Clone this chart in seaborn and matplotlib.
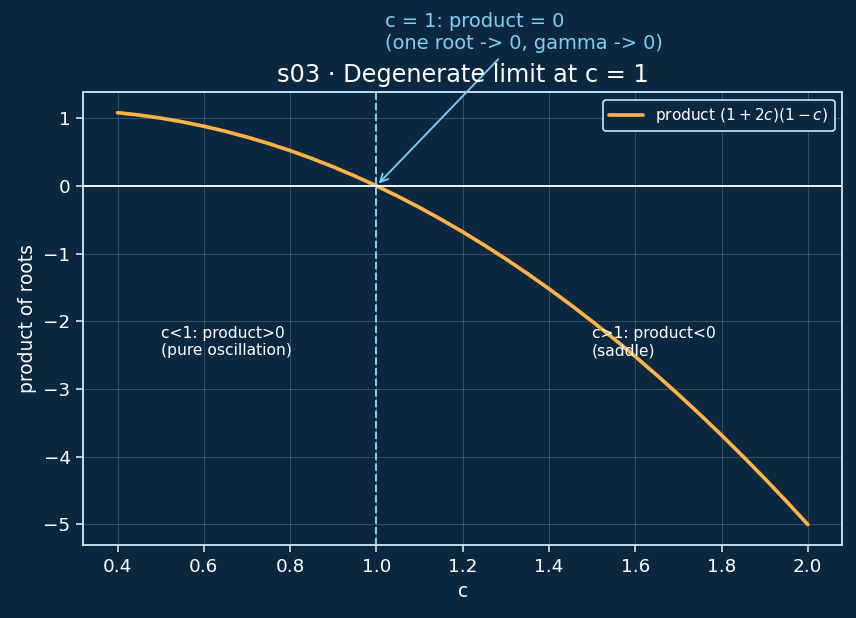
import pandas as pd
import seaborn as sns
import matplotlib.pyplot as plt

# data
c_values = [0.4, 0.45, 0.5, 0.55, 0.6, 0.65, 0.7, 0.75, 0.8, 0.85, 0.9, 0.95,
            1.0, 1.05, 1.1, 1.15, 1.2, 1.25, 1.3, 1.35, 1.4, 1.45, 1.5, 1.55,
            1.6, 1.65, 1.7, 1.75, 1.8, 1.85, 1.9, 1.95, 2.0]
product_values = [1.08, 1.045, 1.0, 0.945, 0.88, 0.805, 0.72, 0.625, 0.52, 0.405,
                  0.28, 0.145, 0.0, -0.155, -0.32, -0.495, -0.68, -0.875, -1.08,
                  -1.295, -1.52, -1.755, -2.0, -2.255, -2.52, -2.795, -3.08,
                  -3.375, -3.68, -3.995, -4.32, -4.655, -5.0]

BG = "#0c2840"
FG = "#ffffff"
EDGE = "#cfe6f2"
ORANGE = "#ffb347"
BLUE = "#7fd0f2"

def main():
    sns.set_style("dark")
    plt.rcParams.update({
        "figure.facecolor": BG,
        "axes.facecolor": BG,
        "axes.edgecolor": EDGE,
        "axes.labelcolor": FG,
        "text.color": FG,
        "xtick.color": FG,
        "ytick.color": FG,
        "font.family": ["DejaVu Sans"],
    })

    df = pd.DataFrame({"c": c_values, "product": product_values})

    fig, ax = plt.subplots(figsize=(856 / 120, 618 / 120), dpi=120)
    sns.lineplot(data=df, x="c", y="product", ax=ax, color=ORANGE, linewidth=2.2,
                 label=r"product $(1+2c)(1-c)$")

    ax.axhline(0, color=FG, linewidth=1.1)
    ax.axvline(1.0, color=BLUE, linestyle="--", linewidth=1.2)

    ax.grid(True, color="white", alpha=0.18, linewidth=0.6)
    ax.tick_params(axis="both", which="both", bottom=True, left=True,
                   length=4, width=1, color=EDGE, labelsize=11)
    for spine in ax.spines.values():
        spine.set_color(EDGE)
        spine.set_linewidth(1.1)

    ax.annotate("c = 1: product = 0\n(one root -> 0, gamma -> 0)",
                xy=(1.0, 0.0), xytext=(1.02, 2.02), color=BLUE, fontsize=11.6,
                arrowprops=dict(arrowstyle="->", color=BLUE, lw=1.1))
    ax.text(0.5, -2.5, "c<1: product>0\n(pure oscillation)", fontsize=9.3, color=FG)
    ax.text(1.5, -2.5, "c>1: product<0\n(saddle)", fontsize=9.3, color=FG)

    ax.set_title("s03 · Degenerate limit at c = 1", color=FG, fontsize=14.4)
    ax.set_xlabel("c", fontsize=11.2)
    ax.set_ylabel("product of roots", fontsize=11.2)

    leg = ax.legend(loc="upper right", fontsize=9.2, facecolor=BG, edgecolor=EDGE,
                    framealpha=1, handlelength=2.2)
    for t in leg.get_texts():
        t.set_color(FG)

    fig.subplots_adjust(left=0.097, right=0.984, top=0.851, bottom=0.118)
    fig.savefig("out.png", dpi=120, facecolor=BG)
    plt.close(fig)

if __name__ == "__main__":
    main()
